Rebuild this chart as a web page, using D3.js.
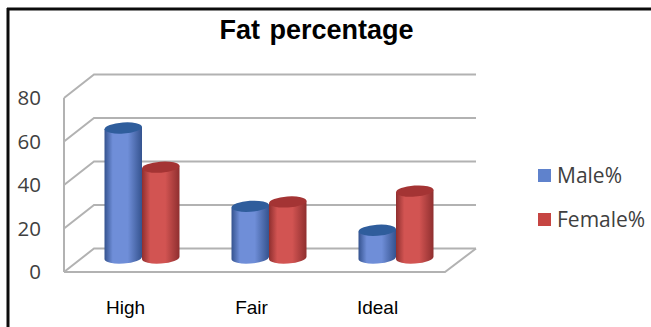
<!DOCTYPE html>
<html>
<head>
<meta charset="utf-8">
<script src="https://cdn.jsdelivr.net/npm/d3@7"></script>
<style>
  html, body { margin: 0; padding: 0; background: #fff; }
  svg { display: block; }
</style>
</head>
<body>
<svg id="chart" width="651" height="327"></svg>
<script>
const categories = ["High", "Fair", "Ideal"];
const seriesNames = ["Male%", "Female%"];
const maleValues = [60, 24, 13];
const femaleValues = [42, 26, 31];
const yTicks = [0, 20, 40, 60, 80];

const svg = d3.select("#chart");
const W = 651, H = 327;

// Oblique projection: front plane of the box, plus the shift to its back wall
const y = d3.scaleLinear().domain([0, 80]).range([272, 98]);
const depth = { dx: 30, dy: -23.5 };
const x = d3.scalePoint().domain(categories).range([125, 377]);
const xBars = d3.scalePoint().domain(categories).range([142, 396]);
const xSeries = d3.scaleBand().domain(seriesNames).range([-37.5, 37.5]);
const barLift = -13.5;   // cylinders stand mid-way into the box
const floorRight = 445;

const palette = {
  "Male%": { edge: "#35538f", mid: "#6f8ed8", cap: "#2f5d9c", key: "#5f82cc" },
  "Female%": { edge: "#8f2f2f", mid: "#d25452", cap: "#a43434", key: "#c64542" }
};

// Horizontal shading that gives each cylinder its roundness
const defs = svg.append("defs");
seriesNames.forEach((name, i) => {
  const g = defs.append("linearGradient").attr("id", "body" + i)
    .attr("x1", 0).attr("x2", 1).attr("y1", 0).attr("y2", 0);
  g.append("stop").attr("offset", "0%").attr("stop-color", palette[name].edge);
  g.append("stop").attr("offset", "22%").attr("stop-color", palette[name].mid);
  g.append("stop").attr("offset", "62%").attr("stop-color", palette[name].mid);
  g.append("stop").attr("offset", "100%").attr("stop-color", palette[name].edge);
});

svg.append("rect").attr("width", W).attr("height", H).attr("fill", "#fff");

// Frame: only the top and left rules
const frame = svg.append("g").attr("stroke", "#0c0c0c").attr("stroke-width", 3).attr("fill", "none");
frame.append("line").attr("x1", 7).attr("x2", W).attr("y1", 9).attr("y2", 9);
frame.append("line").attr("x1", 8).attr("x2", 8).attr("y1", 8).attr("y2", H);

svg.append("text")
  .attr("x", 316.5).attr("y", 39)
  .attr("text-anchor", "middle")
  .attr("font-family", "'Liberation Sans', Arial, sans-serif")
  .attr("font-weight", "bold").attr("font-size", 27)
  .attr("word-spacing", 2)
  .attr("fill", "#000")
  .text("Fat percentage");

// Walls and floor
const wall = svg.append("g").attr("fill", "none").attr("stroke", "#b2b2b2").attr("stroke-width", 2);
const x0 = 64;
const xBackRight = 476;
yTicks.forEach(t => {
  wall.append("polyline").attr("points", [
    [x0, y(t)],
    [x0 + depth.dx, y(t) + depth.dy],
    [xBackRight, y(t) + depth.dy]
  ].join(" "));
});
wall.append("line").attr("x1", x0).attr("x2", x0).attr("y1", y(80)).attr("y2", y(0));
wall.append("polyline").attr("points", [
  [x0, y(0)],
  [floorRight, y(0)],
  [xBackRight, y(0) + depth.dy]
].join(" "));

// Value axis
const yAxis = d3.axisLeft(y).tickValues(yTicks).tickSize(0).tickPadding(0);
const yG = svg.append("g").attr("transform", "translate(41,0)").call(yAxis);
yG.select(".domain").remove();
yG.selectAll("text")
  .attr("font-family", "'Open Sans', sans-serif")
  .attr("font-size", 20.5)
  .attr("fill", "#404040");

// Category axis
const xAxis = d3.axisBottom(x).tickSize(0).tickPadding(0);
const xG = svg.append("g").attr("transform", "translate(0,300.5)").call(xAxis);
xG.select(".domain").remove();
xG.selectAll("text")
  .attr("font-family", "'Liberation Sans', Arial, sans-serif")
  .attr("font-size", 19)
  .attr("fill", "#000");

// Cylinders
const rows = categories.flatMap((c, i) => [
  { category: c, series: "Male%", idx: 0, value: maleValues[i] },
  { category: c, series: "Female%", idx: 1, value: femaleValues[i] }
]);
const bw = xSeries.bandwidth();
const capRy = 5.5, tilt = -4;

const cyl = svg.append("g").selectAll("g").data(rows).join("g")
  .attr("transform", d => `translate(${xBars(d.category) + xSeries(d.series)},${barLift})`);

cyl.append("path")
  .attr("fill", d => `url(#body${d.idx})`)
  .attr("d", d => {
    const base = y(0) - 0.5, top = y(d.value);
    const lift = bw * Math.tan(-tilt * Math.PI / 180) / 2;
    return `M0,${top + lift}L0,${base + lift}` +
      `A${bw / 2},${capRy} ${tilt} 0 0 ${bw},${base - lift}` +
      `L${bw},${top - lift}Z`;
  });

cyl.append("ellipse")
  .attr("cx", 0).attr("cy", 0)
  .attr("rx", bw / 2).attr("ry", capRy)
  .attr("transform", d => `translate(${bw / 2},${y(d.value)}) rotate(${tilt})`)
  .attr("fill", d => palette[d.series].cap);

// Legend
const legendY = d3.scalePoint().domain(seriesNames).range([175.5, 219.5]);
const legend = svg.append("g").selectAll("g").data(seriesNames).join("g")
  .attr("transform", d => `translate(538,${legendY(d)})`);
legend.append("rect")
  .attr("x", 0).attr("y", -6.5).attr("width", 13).attr("height", 13)
  .attr("fill", d => palette[d].key);
legend.append("text")
  .attr("x", 19).attr("y", 0).attr("dy", "0.35em")
  .attr("font-family", "'Open Sans', sans-serif")
  .attr("font-size", 21)
  .attr("fill", "#404040")
  .text(d => d);
</script>
</body>
</html>
